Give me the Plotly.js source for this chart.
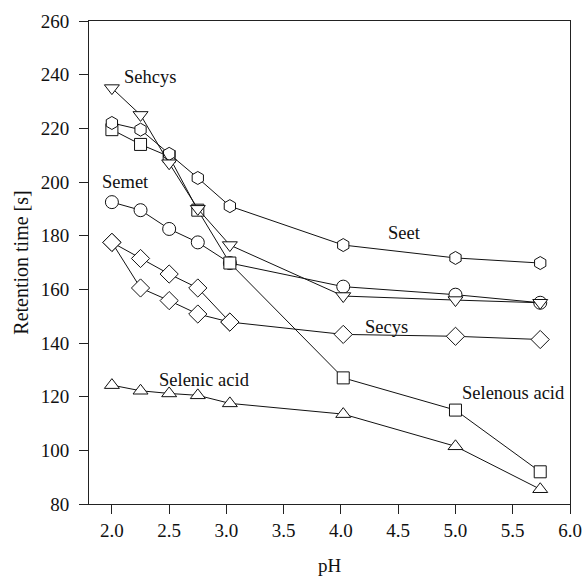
<!DOCTYPE html>
<html>
<head>
<meta charset="utf-8">
<script src="https://cdn.plot.ly/plotly-3.0.1.min.js"></script>
<style>html,body{margin:0;padding:0;background:#fff;}#chart{width:583px;height:576px;}</style>
</head>
<body>
<div id="chart"></div>
<script>
const pH = [2.0, 2.25, 2.5, 2.75, 3.03, 4.02, 5.0, 5.74];
const pHShort = [2.0, 2.25, 2.5, 2.75, 3.03];
const sehcys = [235, 225, 207, 190, 176.5, 157.5, 156, 155];
const seet = [222, 219.5, 210.5, 201.5, 191, 176.5, 171.7, 169.8];
const selenousAcid = [219.5, 214, 209.5, 189.5, 169.8, 127, 115, 92];
const semet = [192.5, 189.5, 182.5, 177.5, 169.8, 161, 158, 155];
const secysUpper = [177.5, 171.5, 165.7, 160.5, 147.8];
const secysLower = [177.5, 160.5, 155.8, 150.8, 147.8, 143.2, 142.5, 141.3];
const selenicAcid = [124.3, 122.2, 121.2, 120.5, 117.5, 113.5, 101.5, 85.5];

const labels = ["Sehcys", "Semet", "Seet", "Secys", "Selenic acid", "Selenous acid"];
const labelX = [2.085, 1.9, 4.39, 4.19, 2.39, 5.04];
const labelY = [239, 200, 181, 146, 126.2, 121.2];

const font = "'Liberation Serif', 'Times New Roman', serif";
function tr(x, y, sym, size) {
  return {
    x: x, y: y, type: 'scatter', mode: 'lines+markers',
    line: {color: '#111', width: 1},
    marker: {symbol: sym, size: size || 12, color: '#fff', line: {color: '#111', width: 1}},
    showlegend: false, hoverinfo: 'skip'
  };
}
const data = [
  tr(pH, selenicAcid, 'triangle-up', 13),
  tr(pHShort, secysUpper, 'diamond', 14),
  tr(pH, secysLower, 'diamond', 14),
  tr(pH, semet, 'circle', 13),
  tr(pH, selenousAcid, 'square', 12),
  tr(pH, seet, 'hexagon', 13),
  tr(pH, sehcys, 'triangle-down', 13)
];
const annotations = labels.map((t, i) => ({
  x: labelX[i], y: labelY[i], xref: 'x', yref: 'y', text: t, showarrow: false,
  xanchor: 'left', yanchor: 'middle', font: {family: font, size: 18.5, color: '#111'}
}));
const layout = {
  width: 583, height: 576,
  margin: {l: 89, r: 13, t: 21, b: 72},
  paper_bgcolor: '#fff', plot_bgcolor: '#fff',
  font: {family: font, size: 19, color: '#111'},
  xaxis: {
    range: [1.8, 6.0], tickvals: [2.0, 2.5, 3.0, 3.5, 4.0, 4.5, 5.0, 5.5, 6.0],
    ticktext: ['2.0', '2.5', '3.0', '3.5', '4.0', '4.5', '5.0', '5.5', '6.0'],
    showgrid: false, zeroline: false, showline: true, linecolor: '#222', linewidth: 1, mirror: true,
    ticks: 'outside', ticklen: 9, tickcolor: '#222', ticklabelstandoff: 0,
    title: {text: 'pH', font: {family: font, size: 19}, standoff: 24}
  },
  yaxis: {
    range: [80, 260], dtick: 20,
    showgrid: false, zeroline: false, showline: true, linecolor: '#222', linewidth: 1, mirror: true,
    ticks: 'outside', ticklen: 9, tickcolor: '#222', ticklabelstandoff: 6,
    title: {text: 'Retention time [s]', font: {family: font, size: 20}, standoff: 6}
  },
  annotations: annotations
};
Plotly.newPlot('chart', data, layout, {displayModeBar: false, staticPlot: true});
</script>
</body>
</html>
